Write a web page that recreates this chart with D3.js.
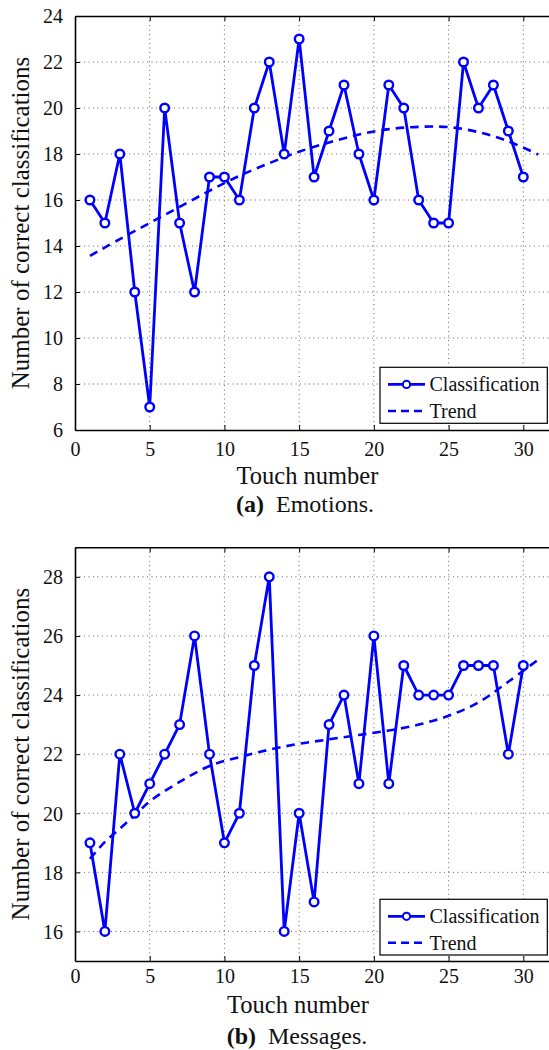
<!DOCTYPE html>
<html>
<head>
<meta charset="utf-8">
<script src="https://cdn.jsdelivr.net/npm/d3@7"></script>
<style>
  html, body { margin: 0; padding: 0; background: #fff; overflow: hidden; }
  svg { display: block; }
  text { font-family: "Liberation Serif", "Times New Roman", serif; fill: #111; }
</style>
</head>
<body>
<svg id="chart" width="549" height="1050"></svg>
<script>
// ---------------- data ----------------
const touches = [1,2,3,4,5,6,7,8,9,10,11,12,13,14,15,16,17,18,19,20,21,22,23,24,25,26,27,28,29,30];
const emotionsCorrect = [16,15,18,12,7,20,15,12,17,17,16,20,22,18,23,17,19,21,18,16,21,20,16,15,15,22,20,21,19,17];
const emotionsTrendX = [1,3,5,7,9,11,13,15,17,19,21,23,25,27,29,31];
const emotionsTrend  = [13.57,14.3,15.0,15.7,16.4,17.05,17.6,18.1,18.5,18.85,19.08,19.18,19.17,18.95,18.55,17.98];

const messagesCorrect = [19,16,22,20,21,22,23,26,22,19,20,25,28,16,20,17,23,24,21,26,21,25,24,24,24,25,25,25,22,25];
const messagesTrendX = [1,2,3,4,5,7,9,11,13,15,17,19,21,23,25,27,29,31];
const messagesTrend  = [18.46,19.03,19.48,19.93,20.4,21.06,21.6,21.9,22.15,22.35,22.5,22.65,22.8,23.0,23.3,23.75,24.45,25.2];

const xTicks = [0,5,10,15,20,25,30];
const emotionsYTicks = [6,8,10,12,14,16,18,20,22,24];
const messagesYTicks = [16,18,20,22,24,26,28];

const yTitle = "Number of correct classifications";
const xTitle = "Touch number";
const legendLabels = ["Classification", "Trend"];

// ---------------- drawing ----------------
const svg = d3.select("#chart");
const BLUE = "#0000ff";

function panel(cfg) {
  const g = svg.append("g");
  const x = d3.scaleLinear().domain([0, 32]).range([75, 75 + 32 * (448.3 / 30)]);
  const y = d3.scaleLinear().domain(cfg.yDomain).range([cfg.bottom, cfg.top]);

  // clip for plot area
  const clipId = "clip" + cfg.id;
  svg.append("clipPath").attr("id", clipId)
    .append("rect").attr("x", 75).attr("y", cfg.top).attr("width", x(32) - 75).attr("height", cfg.bottom - cfg.top);

  // grid
  const grid = g.append("g").attr("stroke", "#666").attr("stroke-width", 1).attr("stroke-dasharray", "1,3.5");
  grid.selectAll("line.gx").data(xTicks.filter(d => d > 0)).join("line")
    .attr("x1", d => x(d)).attr("x2", d => x(d)).attr("y1", cfg.top).attr("y2", cfg.bottom);
  grid.selectAll("line.gy").data(cfg.yTicks.filter(d => d > cfg.yDomain[0] && d < cfg.yDomain[1])).join("line")
    .attr("x1", x(0)).attr("x2", x(32)).attr("y1", d => y(d)).attr("y2", d => y(d));

  // axes
  const xAxis = d3.axisBottom(x).tickValues(xTicks).tickSizeInner(-5).tickSizeOuter(0).tickPadding(12);
  const gx = g.append("g").attr("transform", `translate(0,${cfg.bottom})`).call(xAxis);
  gx.selectAll("text").attr("font-size", 20).attr("dy", cfg.xTickDy);
  const xTop = d3.axisTop(x).tickValues(xTicks).tickSizeInner(-5).tickSizeOuter(0).tickFormat("");
  g.append("g").attr("transform", `translate(0,${cfg.top})`).call(xTop);

  const yAxis = d3.axisLeft(y).tickValues(cfg.yTicks).tickSizeInner(-5).tickSizeOuter(0).tickPadding(12);
  const gy = g.append("g").attr("transform", `translate(75,0)`).call(yAxis);
  gy.selectAll("text").attr("font-size", 20).attr("dy", "0.34em");
  [gx, gy, g.selectAll("g")].forEach(s => {});
  g.selectAll(".domain").attr("stroke", "#000").attr("stroke-width", 1.6);
  g.selectAll(".tick line").attr("stroke", "#000").attr("stroke-width", 1);
  g.selectAll(".tick text").attr("fill", "#111").attr("font-family", "Liberation Serif, serif");

  // data layer
  const data = g.append("g").attr("clip-path", `url(#${clipId})`);
  const trendPts = cfg.trendX.map((d, i) => [d, cfg.trend[i]]);
  data.append("path")
    .attr("d", d3.line().x(d => x(d[0])).y(d => y(d[1])).curve(d3.curveCatmullRom)(trendPts))
    .attr("fill", "none").attr("stroke", BLUE).attr("stroke-width", 2.6).attr("stroke-dasharray", "8.5,6");

  const pts = touches.map((d, i) => [d, cfg.values[i]]);
  data.append("path")
    .attr("d", d3.line().x(d => x(d[0])).y(d => y(d[1]))(pts))
    .attr("fill", "none").attr("stroke", BLUE).attr("stroke-width", 2.8).attr("stroke-linejoin", "round");
  data.selectAll("circle").data(pts).join("circle")
    .attr("cx", d => x(d[0])).attr("cy", d => y(d[1])).attr("r", 4.3)
    .attr("fill", "#fff").attr("stroke", BLUE).attr("stroke-width", 2.4);

  // titles
  g.append("text").attr("transform", `translate(${cfg.yTitleX},${(cfg.top + cfg.bottom) / 2}) rotate(-90)`)
    .attr("text-anchor", "middle").attr("font-size", 25).text(yTitle);
  g.append("text").attr("x", cfg.xTitleCx).attr("y", cfg.xTitleY).attr("text-anchor", "middle")
    .attr("font-size", 24.5).text(xTitle);
  const cap = g.append("text").attr("x", cfg.capX).attr("y", cfg.capY).attr("font-size", 24);
  cap.append("tspan").attr("font-weight", "bold").text(cfg.capLetter);
  cap.append("tspan").attr("dx", 12).text(cfg.capText);

  // legend
  const lg = g.append("g");
  lg.append("rect").attr("x", 380).attr("y", cfg.legTop).attr("width", 167.3).attr("height", cfg.legH)
    .attr("fill", "#fff").attr("stroke", "#000").attr("stroke-width", 1.2);
  const ly1 = cfg.legTop + cfg.legH * 0.305, ly2 = cfg.legTop + cfg.legH * 0.78;
  lg.append("line").attr("x1", 388).attr("x2", 425).attr("y1", ly1).attr("y2", ly1)
    .attr("stroke", BLUE).attr("stroke-width", 2.8);
  lg.append("circle").attr("cx", 406.5).attr("cy", ly1).attr("r", 3.6)
    .attr("fill", "#fff").attr("stroke", BLUE).attr("stroke-width", 2);
  lg.append("line").attr("x1", 388).attr("x2", 425).attr("y1", ly2).attr("y2", ly2)
    .attr("stroke", BLUE).attr("stroke-width", 2.6).attr("stroke-dasharray", "8,5");
  lg.append("text").attr("x", 429.5).attr("y", ly1).attr("dy", "0.34em").attr("font-size", 20).text(legendLabels[0]);
  lg.append("text").attr("x", 429.5).attr("y", ly2).attr("dy", "0.34em").attr("font-size", 20).text(legendLabels[1]);
}

panel({
  id: "a", yDomain: [6, 24], yTicks: emotionsYTicks, top: 16, bottom: 430,
  values: emotionsCorrect, trendX: emotionsTrendX, trend: emotionsTrend,
  xTickDy: "0.71em", yTitleX: 29, xTitleCx: 307.5, xTitleY: 484,
  capX: 236, capY: 512, capLetter: "(a)", capText: "Emotions.",
  legTop: 367.3, legH: 56
});
panel({
  id: "b", yDomain: [15, 29], yTicks: messagesYTicks, top: 547.3, bottom: 961,
  values: messagesCorrect, trendX: messagesTrendX, trend: messagesTrend,
  xTickDy: "0.5em", yTitleX: 29, xTitleCx: 298, xTitleY: 1013,
  capX: 226.7, capY: 1044, capLetter: "(b)", capText: "Messages.",
  legTop: 899.3, legH: 55.7
});
</script>
</body>
</html>
